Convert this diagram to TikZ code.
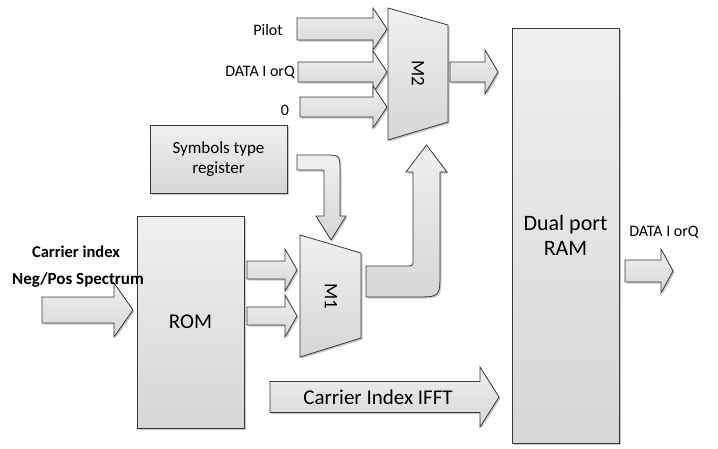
\documentclass[tikz,border=0pt]{standalone}
\usepackage{fontspec}
\setmainfont{Carlito}
\usepackage{tikz}
\usetikzlibrary{calc,shadows,positioning}

\tikzset{
  unit/.style={draw=gray!45!black, line width=0.8pt, top color=gray!12, bottom color=gray!32,
    drop shadow={shadow xshift=1.5pt, shadow yshift=-1.5pt, opacity=.45}},
  block/.style={unit, inner sep=2pt, align=center, font=\fontsize{21}{23}\selectfont},
  blockarrow/.style={unit, line join=miter},
  lbl/.style={inner sep=1pt, font=\fontsize{16}{18}\selectfont}
}

% horizontal block arrow: start, tip, body half, head half, head length
\newcommand{\barrow}[5]{%
  \draw[blockarrow] let \p1=(#1), \p2=(#2) in
    (\x1,\y1+#3) -- (\x2-#5,\y1+#3) -- (\x2-#5,\y1+#4) -- (\x2,\y1)
    -- (\x2-#5,\y1-#4) -- (\x2-#5,\y1-#3) -- (\x1,\y1-#3) -- cycle;}

\begin{document}
\begin{tikzpicture}[x=1pt,y=-1pt]
  \useasboundingbox (0,0) rectangle (718,448);

  % blocks
  \node[block, minimum width=107, minimum height=415, font=\fontsize{22}{25}\selectfont] (ram) at (565.5,235.5) {Dual port\\RAM};
  \node[block, minimum width=107, minimum height=212] (rom) at (190.5,322) {ROM};
  \node[block, minimum width=137, minimum height=68, font=\fontsize{17}{20}\selectfont] (reg) at (218.5,159) {Symbols type\\register};

  % multiplexers
  \draw[unit] (300,235) coordinate (m1tl) -- (361,253) -- (361,338) -- (300,357) -- cycle;
  \node[rotate=-90, font=\fontsize{19}{20}\selectfont] (m1) at (331,296) {M1};
  \draw[unit] (388,8) coordinate (m2tl) -- (448,25) -- (448,122) -- (388,140) -- cycle;
  \node[rotate=-90, font=\fontsize{19}{20}\selectfont] (m2) at (418,73) {M2};

  % arrow ends
  \coordinate (in s) at (42,310);    \coordinate (in t) at (133,310);
  \coordinate (ra s) at (247,270);   \coordinate (ra t) at (297,270);
  \coordinate (rb s) at (247,316);   \coordinate (rb t) at (297,316);
  \coordinate (pi s) at (297,29);    \coordinate (pi t) at (387,29);
  \coordinate (da s) at (298,72);    \coordinate (da t) at (387,72);
  \coordinate (ze s) at (300,107);   \coordinate (ze t) at (387,107);
  \coordinate (mx s) at (450,72);    \coordinate (mx t) at (498,72);
  \coordinate (ff s) at (270,397);   \coordinate (ff t) at (499,397);
  \coordinate (out s) at (625,271);  \coordinate (out t) at (673,271);

  \barrow{in s}{in t}{13pt}{27pt}{19pt}
  \barrow{ra s}{ra t}{9pt}{21pt}{12pt}
  \barrow{rb s}{rb t}{9pt}{21pt}{12pt}
  \barrow{pi s}{pi t}{11pt}{21pt}{14pt}
  \barrow{da s}{da t}{10pt}{21pt}{14pt}
  \barrow{ze s}{ze t}{10pt}{21pt}{14pt}
  \barrow{mx s}{mx t}{10pt}{22pt}{13pt}
  \barrow{ff s}{ff t}{15.5pt}{30pt}{19pt}
  \barrow{out s}{out t}{11pt}{22pt}{12pt}

  % bent arrows
  \draw[blockarrow] (297,155) -- (324,155) .. controls (340,155) .. (340,171) -- (340,216)
    -- (346,216) -- (331,240) -- (316,216) -- (324,216) -- (324,174)
    .. controls (324,170) .. (320,170) -- (297,170) -- cycle;
  \draw[blockarrow] (366,266) -- (406,266) .. controls (413,266) .. (413,259) -- (413,172)
    -- (406,172) -- (426.5,145) -- (447,172) -- (440,172) -- (440,272)
    .. controls (440,297) .. (415,297) -- (366,297) -- cycle;

  % labels
  \node[font=\fontsize{21}{22}\selectfont] (ifft) at (378,397) {Carrier Index IFFT};
  \node[lbl, anchor=east] (pilot) at (284,30) {Pilot};
  \node[lbl, anchor=east] (dataiq) at (296,72) {DATA I orQ};
  \node[lbl] (zero) at (285,110) {0};
  \node[lbl] (dataout) at (664,232) {DATA I orQ};
  \node[font=\bfseries\fontsize{16.5}{20}\selectfont] (cidx) at (76,252) {Carrier index};
  \node[font=\bfseries\fontsize{17}{20}\selectfont] (negpos) at (78,280) {Neg/Pos Spectrum};
\end{tikzpicture}
\end{document}
